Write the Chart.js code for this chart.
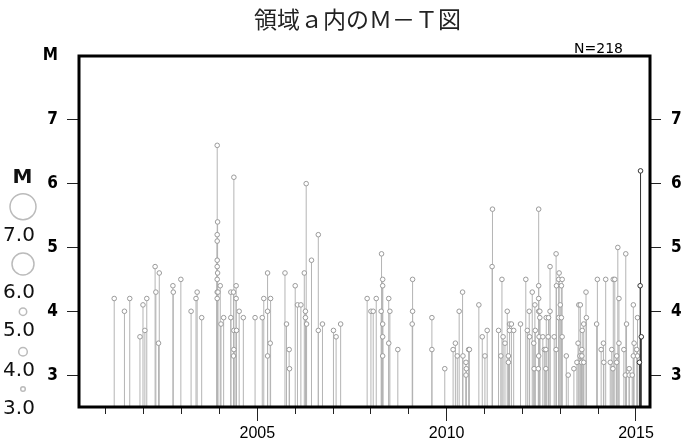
<!DOCTYPE html>
<html>
<head>
<meta charset="utf-8">
<script src="https://cdn.jsdelivr.net/npm/chart.js@4"></script>
<style>
  html, body { margin: 0; padding: 0; background: #fff; }
  canvas { display: block; }
</style>
</head>
<body>
<canvas id="mt" width="689" height="445"></canvas>
<script>
// ---------------------- DATA ---------------------
// decimal year of each event, and its magnitude
const eventTimes = [
  2001.22, 2001.49, 2001.63, 2001.90, 2001.98, 2002.03, 2002.08, 2002.30, 2002.32, 2002.39,
  2002.41, 2002.77, 2002.78, 2002.98, 2003.25, 2003.38, 2003.41, 2003.53, 2003.94, 2003.95,
  2003.94, 2003.94, 2003.94, 2003.94, 2003.95, 2003.94, 2003.94, 2003.96, 2003.94, 2004.02,
  2004.04, 2004.11, 2004.30, 2004.30, 2004.37, 2004.38, 2004.44, 2004.44, 2004.38, 2004.45,
  2004.38, 2004.37, 2004.52, 2004.63, 2004.94, 2005.13, 2005.17, 2005.27, 2005.27, 2005.27,
  2005.34, 2005.35, 2005.73, 2005.77, 2005.84, 2005.85, 2006.00, 2006.06, 2006.15, 2006.24,
  2006.27, 2006.27, 2006.29, 2006.30, 2006.43, 2006.61, 2006.61, 2006.72, 2007.01, 2007.08,
  2007.20, 2007.90, 2008.00, 2008.06, 2008.14, 2008.28, 2008.31, 2008.31, 2008.27, 2008.31,
  2008.31, 2008.31, 2008.47, 2008.47, 2008.50, 2008.71, 2009.10, 2009.10, 2009.09, 2009.61,
  2009.61, 2009.95, 2010.17, 2010.23, 2010.28, 2010.33, 2010.42, 2010.43, 2010.51, 2010.52,
  2010.51, 2010.58, 2010.60, 2010.85, 2010.94, 2011.01, 2011.07, 2011.21, 2011.20, 2011.37,
  2011.43, 2011.46, 2011.49, 2011.54, 2011.60, 2011.63, 2011.63, 2011.66, 2011.66, 2011.71,
  2011.77, 2011.95, 2012.09, 2012.13, 2012.18, 2012.19, 2012.26, 2012.30, 2012.33, 2012.34,
  2012.31, 2012.42, 2012.43, 2012.43, 2012.43, 2012.43, 2012.44, 2012.43, 2012.46, 2012.46,
  2012.54, 2012.58, 2012.62, 2012.62, 2012.63, 2012.69, 2012.68, 2012.73, 2012.73, 2012.84,
  2012.89, 2012.90, 2012.89, 2012.97, 2012.96, 2013.05, 2013.03, 2013.00, 2012.96, 2013.03,
  2013.05, 2013.16, 2013.21, 2013.36, 2013.44, 2013.47, 2013.49, 2013.53, 2013.52, 2013.57,
  2013.56, 2013.62, 2013.57, 2013.58, 2013.62, 2013.68, 2013.69, 2013.96, 2013.98, 2014.08,
  2014.14, 2014.15, 2014.20, 2014.32, 2014.36, 2014.40, 2014.44, 2014.39, 2014.49, 2014.49,
  2014.52, 2014.55, 2014.55, 2014.68, 2014.73, 2014.75, 2014.72, 2014.82, 2014.90, 2014.82,
  2014.93, 2014.93, 2014.95, 2015.02, 2015.04, 2015.04
];
const eventMags = [
  4.2, 4.0, 4.2, 3.6, 4.1, 3.7, 4.2, 4.7, 4.3, 3.5,
  4.6, 4.4, 4.3, 4.5, 4.0, 4.2, 4.3, 3.9, 6.6, 5.4,
  5.2, 5.1, 4.8, 4.7, 4.6, 4.5, 4.3, 4.3, 4.2, 4.4,
  3.8, 3.9, 4.3, 3.9, 4.3, 6.1, 4.4, 4.2, 3.7, 3.7,
  3.4, 3.3, 4.0, 3.9, 3.9, 3.9, 4.2, 4.6, 4.0, 3.3,
  3.5, 4.2, 4.6, 3.8, 3.4, 3.1, 4.4, 4.1, 4.1, 4.6,
  4.0, 3.9, 6.0, 3.8, 4.8, 5.2, 3.7, 3.8, 3.7, 3.6,
  3.8, 4.2, 4.0, 4.0, 4.2, 4.9, 4.5, 4.4, 4.0, 3.8,
  3.6, 3.3, 4.2, 3.5, 4.0, 3.4, 4.5, 4.0, 3.8, 3.9,
  3.4, 3.1, 3.4, 3.5, 3.3, 4.0, 4.3, 3.3, 3.2, 3.1,
  3.0, 3.4, 3.4, 4.1, 3.6, 3.3, 3.7, 5.6, 4.7, 3.7,
  3.3, 4.5, 3.6, 3.5, 4.0, 3.3, 3.2, 3.8, 3.7, 3.8,
  3.7, 3.8, 4.5, 3.7, 4.0, 3.6, 4.3, 3.5, 4.1, 3.7,
  3.1, 3.1, 5.6, 4.4, 4.2, 4.0, 3.6, 3.3, 4.0, 3.9,
  3.6, 3.4, 3.4, 3.1, 3.9, 3.9, 3.6, 4.7, 4.0, 3.6,
  4.9, 4.4, 3.4, 4.6, 4.5, 4.5, 4.4, 4.1, 3.9, 3.9,
  3.6, 3.3, 3.0, 3.1, 3.2, 3.5, 4.1, 4.1, 3.3, 3.3,
  3.2, 3.2, 3.4, 3.7, 3.8, 4.3, 3.9, 3.8, 4.5, 3.4,
  3.5, 3.2, 4.5, 3.2, 3.4, 4.5, 4.5, 3.1, 3.2, 3.3,
  5.0, 4.2, 3.5, 3.4, 4.9, 3.8, 3.0, 3.0, 3.0, 3.1,
  4.1, 3.3, 3.5, 3.4, 3.9, 3.3
];
// latest events, drawn dark
const recentTimes = [2015.09, 2015.11, 2015.12, 2015.14];
const recentMags = [3.2, 4.4, 6.2, 3.6];

const chartTitle = "領域ａ内のＭ－Ｔ図";
const eventCount = "N=218";
const yearTicks = [2001, 2002, 2003, 2004, 2005, 2006, 2007, 2008, 2009, 2010, 2011, 2012, 2013, 2014, 2015];
const magTicksLeft = [3, 4, 5, 6, 7, 8];
const magTicksRight = [3, 4, 5, 6, 7];
const sizeLabels = ["7.0", "6.0", "5.0", "4.0", "3.0"];

const X_MIN = 2000.29, X_MAX = 2015.37;
const Y_MIN = 2.5, Y_MAX = 8;

const narrowFont = "'Liberation Sans Narrow', 'DejaVu Sans Condensed', 'Liberation Sans', sans-serif";

// vertical stem for each event: base -> magnitude, broken by a null point
function stems(times, mags) {
  const out = [];
  times.forEach((t, i) => {
    out.push({ x: t, y: Y_MIN }, { x: t, y: mags[i] }, { x: t, y: null });
  });
  return out;
}
function points(times, mags) {
  return times.map((t, i) => ({ x: t, y: mags[i] }));
}

// ---------------------- PLUGINS ---------------------
const framePlugin = {
  id: "frame",
  afterDatasetsDraw(chart) {
    const a = chart.chartArea;
    const ctx = chart.ctx;
    ctx.save();
    ctx.strokeStyle = "#000";
    ctx.lineWidth = 3;
    ctx.lineJoin = "miter";
    ctx.strokeRect(a.left, a.top, a.right - a.left, a.bottom - a.top);
    // N= label above the right corner
    ctx.fillStyle = "#000";
    ctx.font = "14px 'DejaVu Sans'";
    ctx.textAlign = "right";
    ctx.textBaseline = "alphabetic";
    ctx.fillText(eventCount, a.right - 27, a.top - 3);
    // title
    ctx.fillStyle = "#222";
    ctx.font = "23px 'Noto Sans CJK JP'";
    ctx.textAlign = "center";
    ctx.textBaseline = "middle";
    ctx.fillText(chartTitle, 357.5, 19);
    ctx.restore();
  }
};

// magnitude size key at the left edge
const sizeKeyPlugin = {
  id: "sizeKey",
  afterDraw(chart) {
    const ctx = chart.ctx;
    const circles = [[206.7, 13], [264, 11], [311.7, 3.7], [351.7, 4.3], [389, 2.3]];
    const labelY = [236, 292.5, 330.5, 370.5, 408.5];
    ctx.save();
    ctx.fillStyle = "#111";
    ctx.textAlign = "center";
    ctx.textBaseline = "middle";
    ctx.font = "bold 20px 'DejaVu Sans'";
    ctx.fillText("M", 22.5, 178);
    ctx.strokeStyle = "#bbb";
    ctx.lineWidth = 1.5;
    circles.forEach(c => {
      ctx.beginPath();
      ctx.arc(23, c[0], c[1], 0, Math.PI * 2);
      ctx.stroke();
    });
    ctx.font = "20px 'DejaVu Sans'";
    sizeLabels.forEach((s, i) => ctx.fillText(s, 19, labelY[i]));
    ctx.restore();
  }
};

// ---------------------- CHART ---------------------
const ctx = document.getElementById("mt").getContext("2d");

new Chart(ctx, {
  type: "scatter",
  data: {
    datasets: [
      {
        label: "stems",
        data: stems(eventTimes, eventMags),
        showLine: true,
        spanGaps: false,
        borderColor: "#b4b4b4",
        borderWidth: 1,
        pointRadius: 0,
        order: 4
      },
      {
        label: "events",
        data: points(eventTimes, eventMags),
        pointRadius: 2.3,
        borderWidth: 1,
        borderColor: "#9a9a9a",
        backgroundColor: "#fff",
        order: 3
      },
      {
        label: "recent stems",
        data: stems(recentTimes, recentMags),
        showLine: true,
        spanGaps: false,
        borderColor: "#333",
        borderWidth: 1,
        pointRadius: 0,
        order: 2
      },
      {
        label: "recent",
        data: points(recentTimes, recentMags),
        pointRadius: 2.3,
        borderWidth: 1,
        borderColor: "#333",
        backgroundColor: "#fff",
        order: 1
      }
    ]
  },
  options: {
    responsive: false,
    animation: false,
    devicePixelRatio: 1,
    layout: { padding: { top: 56, left: 0, right: 0, bottom: 0 } },
    plugins: {
      legend: { display: false },
      tooltip: { enabled: false },
      title: { display: false }
    },
    scales: {
      x: {
        type: "linear",
        position: "bottom",
        min: X_MIN,
        max: X_MAX,
        offset: false,
        afterBuildTicks: s => { s.ticks = yearTicks.map(v => ({ value: v })); },
        afterFit: s => { s.height = 38; },
        border: { display: false },
        grid: {
          drawOnChartArea: false,
          drawTicks: true,
          tickLength: 14,
          tickColor: "#222",
          tickWidth: 1,
          tickBorderDash: c => (c.tick && c.tick.value % 5 === 0) ? [] : [7, 40]
        },
        ticks: {
          autoSkip: false,
          maxRotation: 0,
          padding: 3,
          color: "#000",
          font: { family: "'Liberation Sans'", size: 16 },
          callback: v => (v % 5 === 0 ? String(v) : "")
        }
      },
      y: {
        type: "linear",
        position: "left",
        min: Y_MIN,
        max: Y_MAX,
        afterBuildTicks: s => { s.ticks = magTicksLeft.map(v => ({ value: v })); },
        afterFit: s => { s.width = 79; },
        border: { display: false },
        grid: {
          drawOnChartArea: false,
          tickLength: 12,
          tickColor: c => (c.tick && c.tick.value === 8) ? "rgba(0,0,0,0)" : "#222"
        },
        ticks: {
          padding: 9,
          color: "#000",
          font: { family: narrowFont, size: 17, weight: "bold" },
          callback: v => (v === 8 ? "M" : String(v))
        }
      },
      y2: {
        type: "linear",
        position: "right",
        min: Y_MIN,
        max: Y_MAX,
        afterBuildTicks: s => { s.ticks = magTicksRight.map(v => ({ value: v })); },
        afterFit: s => { s.width = 39; },
        border: { display: false },
        grid: {
          drawOnChartArea: false,
          tickLength: 11,
          tickColor: "#222"
        },
        ticks: {
          padding: 10,
          color: "#000",
          font: { family: narrowFont, size: 17, weight: "bold" },
          callback: v => String(v)
        }
      }
    }
  },
  plugins: [framePlugin, sizeKeyPlugin]
});
</script>
</body>
</html>
